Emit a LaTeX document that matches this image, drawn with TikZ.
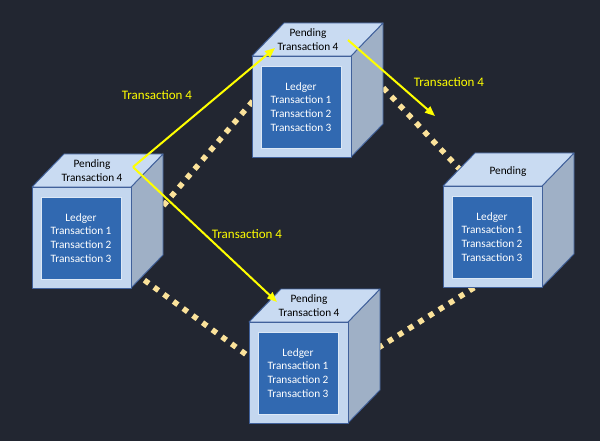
\documentclass[tikz,border=0pt]{standalone}
\usepackage{fontspec}
\setmainfont{Carlito}
\usetikzlibrary{arrows.meta}
\definecolor{bg}{HTML}{222631}
\definecolor{frontc}{HTML}{C4D7EF}
\definecolor{topc}{HTML}{C9DBF2}
\definecolor{rightc}{HTML}{9FB0C6}
\definecolor{cubeline}{HTML}{41619B}
\definecolor{innerc}{HTML}{3169B1}
\definecolor{innerline}{HTML}{DCE8F6}
\definecolor{dotc}{HTML}{FBE29A}
\definecolor{yel}{HTML}{FFFF00}
\tikzset{
  face/.style={draw=cubeline, line width=0.9pt, line join=round},
  dots/.style={draw=dotc, line width=5.5pt, dash pattern=on 5.5pt off 6.5pt},
  flow/.style={draw=yel, line width=2pt, -{Triangle[length=10pt,width=8pt]}},
  lab/.style={text=yel, font=\fontsize{13}{15}\selectfont, inner sep=0pt},
  cubetext/.style={font=\fontsize{11.3}{13.8}\selectfont, align=center, inner sep=0pt},
}
\newcommand\drawcube[5]{%
  \begin{scope}[shift={(#2,#3)}]
    \draw[face, fill=rightc] (99,0) -- (131,-33) -- (131,68) -- (99,101) -- cycle;
    \draw[face, fill=topc] (0,0) -- (32,-33) -- (131,-33) -- (99,0) -- cycle;
    \draw[face, fill=frontc] (0,0) rectangle (99,101);
    \draw[fill=innerc, draw=innerline, line width=0.8pt] (9,10) rectangle (89,92);
    \node[cubetext, text=black] (#1pend) at #4 {#5};
    \node[cubetext, text=white] (#1ledger) at (49,51) {Ledger\\Transaction 1\\Transaction 2\\Transaction 3};
  \end{scope}}
\begin{document}
\begin{tikzpicture}[x=1pt, y=-1pt]
  \fill[bg] (0,0) rectangle (600,441);
  \useasboundingbox (0,0) rectangle (600,441);
  % dotted links (behind cubes)
  \coordinate (d1a) at (140,233);
  \coordinate (d1b) at (258,95);
  \coordinate (d2a) at (375,79);
  \coordinate (d2b) at (465,175);
  \coordinate (d3a) at (378,348);
  \coordinate (d3b) at (480,284);
  \coordinate (d4a) at (125,266);
  \coordinate (d4b) at (255,361);
  \draw[dots] (d1a) -- (d1b);
  \draw[dots] (d2a) -- (d2b);
  \draw[dots] (d3a) -- (d3b);
  \draw[dots] (d4a) -- (d4b);
  % cubes
  \drawcube{top}{252}{56}{(56,-16.5)}{Pending\\Transaction 4}
  \drawcube{left}{32}{187}{(60,-16.5)}{Pending\\Transaction 4}
  \drawcube{right}{443}{186}{(65,-14)}{Pending}
  \drawcube{bot}{249}{322}{(60,-16.5)}{Pending\\Transaction 4}
  % transaction flow
  \coordinate (src) at (133,167);
  \coordinate (tipA) at (275,48);
  \coordinate (tipB) at (277,302);
  \coordinate (srcC) at (348,40);
  \coordinate (tipC) at (435,116);
  \draw[flow] (src) -- (tipA);
  \draw[flow] (src) -- (tipB);
  \draw[flow] (srcC) -- (tipC);
  \node[lab] (l1) at (157,95) {Transaction 4};
  \node[lab] (l2) at (247,234) {Transaction 4};
  \node[lab] (l3) at (449,82) {Transaction 4};
\end{tikzpicture}
\end{document}
